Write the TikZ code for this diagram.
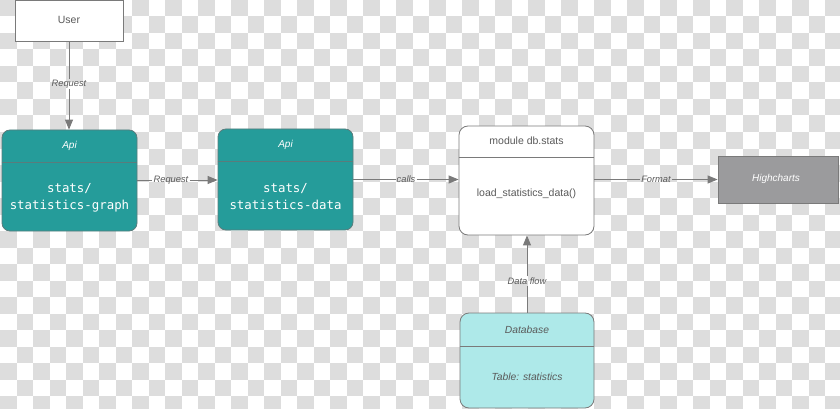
\documentclass[tikz,border=0pt]{standalone}
\usepackage{fontspec}
\setmainfont{Liberation Sans}
\newfontfamily\monof{DejaVu Sans Mono}
\usetikzlibrary{arrows.meta}
\definecolor{checkgray}{HTML}{DDDDDD}
\definecolor{tealfill}{HTML}{259C9A}
\definecolor{tealedge}{HTML}{5A7C7C}
\definecolor{cyanfill}{HTML}{AEE9E9}
\definecolor{hcfill}{HTML}{9B9B9D}
\definecolor{linegray}{HTML}{7A7A7A}
\definecolor{txtgray}{HTML}{5A5A5A}
\tikzset{
  whitebox/.style={draw=linegray, fill=white, line width=0.8pt, inner sep=0pt},
  tealbox/.style={draw=tealedge, fill=tealfill, line width=0.8pt, rounded corners=8pt, inner sep=0pt},
  modbox/.style={draw=linegray, fill=white, line width=0.8pt, rounded corners=9pt, inner sep=0pt},
  dbbox/.style={draw=linegray, fill=cyanfill, line width=0.8pt, rounded corners=9pt, inner sep=0pt},
  hcbox/.style={draw=linegray, fill=hcfill, line width=0.8pt, inner sep=0pt},
  divider/.style={draw=linegray, line width=0.8pt},
  tdivider/.style={draw=tealedge, line width=0.8pt},
  lbl/.style={font=\fontsize{9.3}{11}\selectfont\itshape, text=txtgray, inner sep=1pt},
  plain/.style={font=\fontsize{10.5}{12}\selectfont, text=txtgray, inner sep=0pt},
  ital/.style={font=\fontsize{10.3}{12}\selectfont\itshape, text=txtgray, inner sep=0pt},
  whiteital/.style={font=\fontsize{10}{12}\selectfont\itshape, text=white, inner sep=0pt},
  monotext/.style={font=\fontsize{12.4}{17}\selectfont\monof, text=white, align=center, inner sep=0pt},
  conn/.style={draw=linegray, line width=0.9pt},
  arr/.style={draw=linegray, line width=0.9pt, -{Triangle[length=10pt,width=8pt]}},
}
\begin{document}
\begin{tikzpicture}[x=1pt,y=-1pt]
\useasboundingbox (0,0) rectangle (840,409);
% checkerboard background
\begin{scope}
\clip (0,0) rectangle (840,409);
\foreach \j in {0,...,24}{
  \pgfmathtruncatemacro\off{mod(\j,2)}
  \foreach \i in {0,...,25}{
    \fill[checkgray] ({(2*\i+\off)*16.5},{\j*16.5}) rectangle ++(16.5,16.5);
  }
}
\end{scope}

% User
\node[whitebox, minimum width=108pt, minimum height=41pt] (user) at (69,20.5) {};
\node[plain] (usert) at (69,19.5) {User};

% Api 1
\node[tealbox, minimum width=135pt, minimum height=101pt] (api1) at (69.5,180.5) {};
\draw[tdivider] (api1.west |- 0,162.5) -- (api1.east |- 0,162.5);
\node[whiteital] (api1h) at (69.5,146) {Api};
\node[monotext] (api1b) at (69.5,197.5) {stats/\\statistics-graph};

% Api 2
\node[tealbox, minimum width=135pt, minimum height=101pt] (api2) at (285.5,179.5) {};
\draw[tdivider] (api2.west |- 0,161.5) -- (api2.east |- 0,161.5);
\node[whiteital] (api2h) at (285.5,145) {Api};
\node[monotext] (api2b) at (285.5,196.5) {stats/\\statistics-data};

% module db.stats
\node[modbox, minimum width=135pt, minimum height=109pt] (mod) at (526.5,180.5) {};
\draw[divider] (mod.west |- 0,157) -- (mod.east |- 0,157);
\node[plain] (modh) at (526.5,141) {module db.stats};
\node[plain] (modb) at (526.5,194) {load\_statistics\_data()};

% Highcharts
\node[hcbox, minimum width=120pt, minimum height=47pt] (hc) at (778,179.5) {};
\node[whiteital] (hct) at (776,179) {Highcharts};

% Database
\node[dbbox, minimum width=134pt, minimum height=95pt] (db) at (527,360.5) {};
\draw[divider] (db.west |- 0,346.5) -- (db.east |- 0,346.5);
\node[ital] (dbh) at (527,329.5) {Database};
\node[ital] (dbb) at (527,377) {Table: statistics};

% connectors
\node[lbl] (req1) at (69,84) {Request};
\draw[conn] (user.south) -- (req1);
\draw[arr] (req1) -- (req1 |- api1.north);

\node[lbl] (req2) at (171,180) {Request};
\draw[conn] (api1.east |- req2) -- (req2);
\draw[arr] (req2) -- (req2 -| api2.west);

\node[lbl] (calls) at (406,179.5) {calls};
\draw[conn] (api2.east |- calls) -- (calls);
\draw[arr] (calls) -- (calls -| mod.west);

\node[lbl] (fmt) at (656,179.5) {Format};
\draw[conn] (mod.east |- fmt) -- (fmt);
\draw[arr] (fmt) -- (fmt -| hc.west);

\node[lbl] (flow) at (527,281) {Data flow};
\draw[conn] (db.north |- db.north) -- (flow);
\draw[arr] (flow) -- (flow |- mod.south);
\end{tikzpicture}
\end{document}
